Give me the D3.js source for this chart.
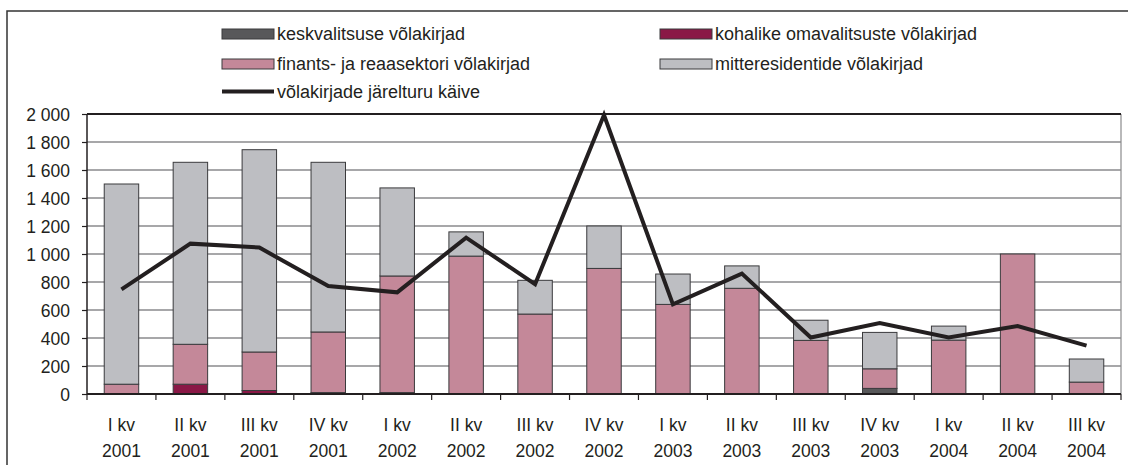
<!DOCTYPE html>
<html>
<head>
<meta charset="utf-8">
<script src="https://cdn.jsdelivr.net/npm/d3@7"></script>
<style>
  body { margin: 0; background: #fff; }
  text { font-family: "Liberation Sans", Arial, sans-serif; fill: #231f20; }
</style>
</head>
<body>
<div id="chart"></div>
<script>
// quarters (two-line labels)
const quarters = ["I kv", "II kv", "III kv", "IV kv", "I kv", "II kv", "III kv", "IV kv",
                  "I kv", "II kv", "III kv", "IV kv", "I kv", "II kv", "III kv"]
const years = ["2001", "2001", "2001", "2001", "2002", "2002", "2002", "2002",
               "2003", "2003", "2003", "2003", "2004", "2004", "2004"]

// stacked series (bottom to top)
const keskvalitsus = [0, 0, 0, 0, 0, 0, 0, 0, 0, 0, 0, 40, 0, 0, 0]
const kohalikud = [0, 70, 25, 10, 10, 0, 0, 0, 0, 0, 0, 0, 0, 0, 0]
const finants = [70, 285, 275, 433, 833, 985, 571, 897, 640, 755, 383, 140, 385, 1000, 85]
const mitteresidendid = [1430, 1300, 1445, 1212, 629, 173, 241, 303, 217, 160, 144, 260, 100, 0, 165]
// line series
const kaive = [747, 1074, 1046, 771, 726, 1117, 784, 1992, 640, 860, 403, 506, 403, 486, 345]

const yTicks = [0, 200, 400, 600, 800, 1000, 1200, 1400, 1600, 1800, 2000]

const seriesNames = ["keskvalitsuse võlakirjad", "kohalike omavalitsuste võlakirjad",
                     "finants- ja reaasektori võlakirjad", "mitteresidentide võlakirjad"]
const lineName = "võlakirjade järelturu käive"
const colors = ["#58585a", "#8a1846", "#c48899", "#bdbec2"]

function main(){
  const width = 1128
  const height = 465
  const margin = {left: 87, right: 1121, top: 114, bottom: 394}

  const svg = d3.select("#chart")
    .append("svg")
    .attr("width", width)
    .attr("height", height)

  // outer frame
  svg.append("rect")
    .attr("x", 7).attr("y", 11)
    .attr("width", width + 20).attr("height", height + 20)
    .attr("fill", "none")
    .attr("stroke", "#333")
    .attr("stroke-width", 1.5)

  const x = d3.scaleBand()
    .domain(d3.range(quarters.length))
    .range([margin.left, margin.right])
    .paddingInner(0.5)
    .paddingOuter(0.25)

  const xb = d3.scaleBand()
    .domain(d3.range(quarters.length))
    .range([margin.left, margin.right])

  const y = d3.scaleLinear()
    .domain([0, 2000])
    .range([margin.bottom, margin.top])

  // gridlines
  svg.append("g")
    .selectAll("line")
    .data(yTicks.slice(1, -1))
    .join("line")
    .attr("x1", margin.left).attr("x2", margin.right)
    .attr("y1", d => y(d)).attr("y2", d => y(d))
    .attr("stroke", "#8a8a8c")
    .attr("stroke-width", 1.6)

  // right border of plot
  svg.append("line")
    .attr("x1", margin.right).attr("x2", margin.right)
    .attr("y1", margin.top).attr("y2", margin.bottom)
    .attr("stroke", "#8a8a8c")
    .attr("stroke-width", 1.2)

  // top line
  svg.append("line")
    .attr("x1", margin.left).attr("x2", margin.right)
    .attr("y1", y(2000)).attr("y2", y(2000))
    .attr("stroke", "#231f20")
    .attr("stroke-width", 1.8)

  // stacked bars
  const rows = quarters.map((q, i) => ({
    i: i,
    s0: keskvalitsus[i], s1: kohalikud[i], s2: finants[i], s3: mitteresidendid[i]
  }))
  const stacked = d3.stack().keys(["s0", "s1", "s2", "s3"])(rows)

  svg.append("g")
    .selectAll("g")
    .data(stacked)
    .join("g")
    .attr("fill", (d, k) => colors[k])
    .selectAll("rect")
    .data(d => d.filter(v => v[1] - v[0] > 0))
    .join("rect")
    .attr("x", d => x(d.data.i))
    .attr("width", x.bandwidth())
    .attr("y", d => y(d[1]))
    .attr("height", d => y(d[0]) - y(d[1]))
    .attr("stroke", "#3a3a3c")
    .attr("stroke-width", 1)

  // axes lines
  svg.append("line")
    .attr("x1", margin.left).attr("x2", margin.left)
    .attr("y1", margin.top).attr("y2", margin.bottom)
    .attr("stroke", "#231f20").attr("stroke-width", 1.5)

  const yAxis = svg.append("g")
    .attr("transform", `translate(${margin.left},0)`)
    .call(d3.axisLeft(y).tickValues(yTicks).tickSize(5).tickPadding(12)
      .tickFormat(d => d3.format(",")(d).replace(",", " ")))
  yAxis.select(".domain").remove()
  yAxis.selectAll(".tick line").attr("stroke", "#231f20").attr("stroke-width", 1.2)
  yAxis.selectAll(".tick text")
    .attr("font-size", 17.5)
    .attr("font-family", "Liberation Sans, Arial, sans-serif")
    .attr("fill", "#231f20")
    .attr("dy", "0.36em")

  svg.append("line")
    .attr("x1", margin.left).attr("x2", margin.right)
    .attr("y1", margin.bottom).attr("y2", margin.bottom)
    .attr("stroke", "#231f20").attr("stroke-width", 1.8)

  // x ticks on band boundaries
  svg.append("g")
    .selectAll("line")
    .data(d3.range(quarters.length + 1))
    .join("line")
    .attr("x1", i => i < quarters.length ? xb(i) : margin.right)
    .attr("x2", i => i < quarters.length ? xb(i) : margin.right)
    .attr("y1", margin.bottom).attr("y2", margin.bottom + 6)
    .attr("stroke", "#231f20").attr("stroke-width", 1.2)

  // x labels
  const xl = svg.append("g")
    .selectAll("text")
    .data(d3.range(quarters.length))
    .join("text")
    .attr("text-anchor", "middle")
    .attr("font-size", 17.5)
  xl.append("tspan")
    .attr("x", i => xb(i) + xb.bandwidth() / 2)
    .attr("y", 430.5)
    .text(i => quarters[i])
  xl.append("tspan")
    .attr("x", i => xb(i) + xb.bandwidth() / 2)
    .attr("y", 456.5)
    .text(i => years[i])

  // line series
  const line = d3.line()
    .x((d, i) => x(i) + x.bandwidth() / 2)
    .y(d => y(d))
  svg.append("path")
    .datum(kaive)
    .attr("d", line)
    .attr("fill", "none")
    .attr("stroke", "#231f20")
    .attr("stroke-width", 4)
    .attr("stroke-linejoin", "miter")

  // legend
  const legendPos = [
    {x: 222, y: 29}, {x: 660, y: 29},
    {x: 222, y: 59}, {x: 660, y: 59}
  ]
  const lg = svg.append("g")
  seriesNames.forEach((name, k) => {
    const p = legendPos[k]
    lg.append("rect")
      .attr("x", p.x).attr("y", p.y)
      .attr("width", 52).attr("height", 10)
      .attr("fill", colors[k])
      .attr("stroke", "#3a3a3c").attr("stroke-width", 1)
    lg.append("text")
      .attr("x", p.x + 55).attr("y", p.y + 11)
      .attr("font-size", 18)
      .text(name)
  })
  lg.append("line")
    .attr("x1", 222).attr("x2", 274)
    .attr("y1", 91.5).attr("y2", 91.5)
    .attr("stroke", "#231f20").attr("stroke-width", 4)
  lg.append("text")
    .attr("x", 277).attr("y", 98)
    .attr("font-size", 18)
    .text(lineName)
}
main();
</script>
</body>
</html>
